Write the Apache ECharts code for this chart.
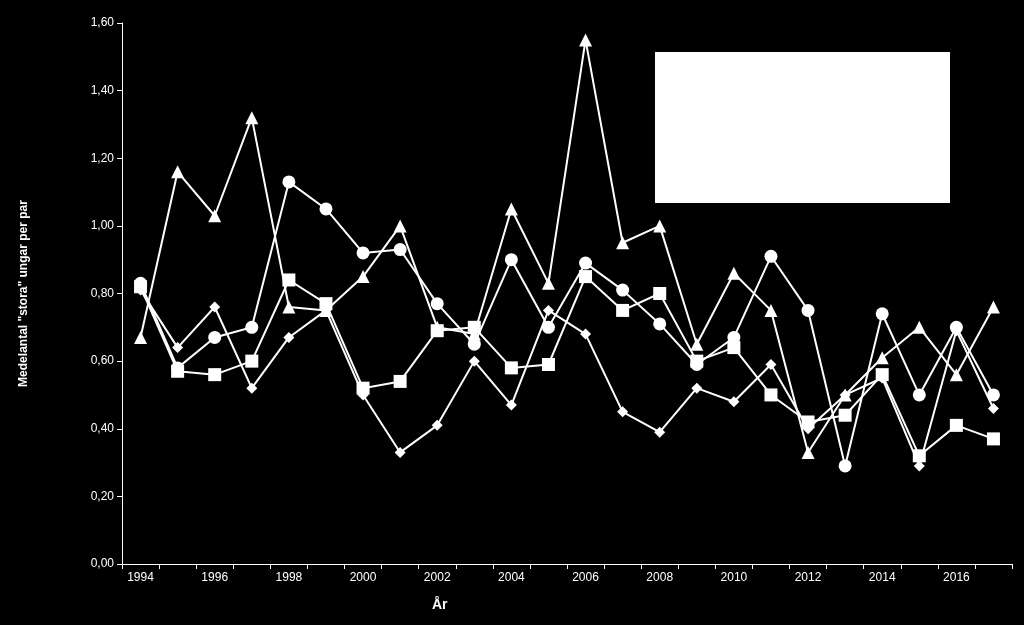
<!DOCTYPE html>
<html><head><meta charset="utf-8">
<script src="https://cdn.jsdelivr.net/npm/echarts@6/dist/echarts.min.js"></script>
<style>html,body{margin:0;background:#000}#c{width:1024px;height:625px}</style>
</head><body><div id="c"></div>
<script>
const years = ['1994','1995','1996','1997','1998','1999','2000','2001','2002','2003','2004','2005','2006','2007','2008','2009','2010','2011','2012','2013','2014','2015','2016','2017'];
const circleVals = [0.83,0.58,0.67,0.70,1.13,1.05,0.92,0.93,0.77,0.65,0.90,0.70,0.89,0.81,0.71,0.59,0.67,0.91,0.75,0.29,0.74,0.50,0.70,0.50];
const squareVals = [0.82,0.57,0.56,0.60,0.84,0.77,0.52,0.54,0.69,0.70,0.58,0.59,0.85,0.75,0.80,0.60,0.64,0.50,0.42,0.44,0.56,0.32,0.41,0.37];
const triangleVals = [0.67,1.16,1.03,1.32,0.76,0.75,0.85,1.00,0.70,0.68,1.05,0.83,1.55,0.95,1.00,0.65,0.86,0.75,0.33,0.50,0.61,0.70,0.56,0.76];
const diamondVals = [0.81,0.64,0.76,0.52,0.67,0.75,0.50,0.33,0.41,0.60,0.47,0.75,0.68,0.45,0.39,0.52,0.48,0.59,0.40,0.50,0.55,0.29,0.69,0.46];
const font = 'Liberation Sans, Arial, sans-serif';
function mk(data, symbol, size){
  return {type:'line', data, symbol, symbolSize:size, showAllSymbol:true,
    lineStyle:{color:'#fff',width:2}, itemStyle:{color:'#fff'}, animation:false};
}
const chart = echarts.init(document.getElementById('c'));
chart.setOption({
  backgroundColor:'#000',
  grid:{left:122,right:12,top:23,bottom:61},
  xAxis:{type:'category',data:years,boundaryGap:true,
    axisLine:{lineStyle:{color:'#fff',width:1}},
    axisTick:{show:true,lineStyle:{color:'#fff'},interval:0},
    axisLabel:{color:'#fff',fontFamily:font,fontSize:12,interval:1,margin:8}},
  yAxis:{type:'value',min:0,max:1.6,interval:0.2,
    name:'Medelantal "stora" ungar per par',nameLocation:'middle',nameGap:92,
    nameTextStyle:{color:'#fff',fontFamily:font,fontSize:12,fontWeight:'bold'},
    axisLine:{show:true,lineStyle:{color:'#fff'}},
    axisTick:{show:true,lineStyle:{color:'#fff'}},
    splitLine:{show:false},
    axisLabel:{color:'#fff',fontFamily:font,fontSize:12,formatter:v=>v.toFixed(2).replace('.',',')}},
  graphic:[
    {type:'rect',shape:{x:655,y:52,width:295,height:151},style:{fill:'#fff'}},
    {type:'text',left:432,top:598,style:{text:'År',fill:'#fff',font:'bold 14px '+font}}
  ],
  series:[
    mk(circleVals,'circle',13),
    mk(squareVals,'rect',13),
    mk(triangleVals,'triangle',13),
    mk(diamondVals,'diamond',11)
  ]
});
</script></body></html>
